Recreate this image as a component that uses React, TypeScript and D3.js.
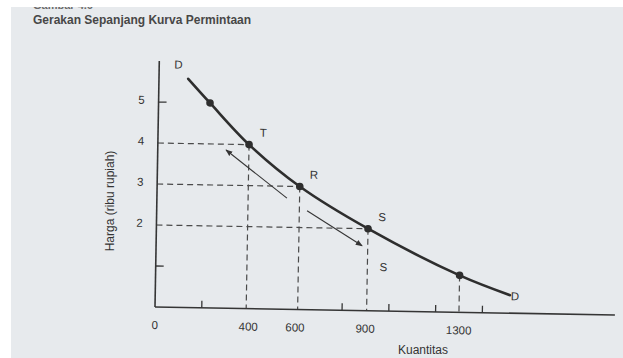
import React from "react";
import * as d3 from "d3";

// Demand curve (quantity, price in thousand rupiah)
const curveQ = [125, 220, 390, 610, 905, 1300, 1517];
const curveP = [5.58, 5.0, 4.0, 3.0, 2.0, 0.9, 0.44];
// marked points (indices into curve arrays)
const markedIdx = [1, 2, 3, 4, 5];
const pointLabels = ["", "T", "R", "S", ""];
const hDashIdx = [2, 3, 4];
const vDashIdx = [2, 3, 4, 5];
const xTickLabels = [0, 400, 600, 900, 1300];
const xMinorTicks = [200, 800, 1000, 1200, 1400];
const yTickLabels = [5, 4, 3, 2];
const yMinorTicks = [5, 1];
// movement arrows [fromQ, fromP, toQ, toP]
const arrows = [
  [556, 2.71, 292, 3.86],
  [643, 2.41, 881, 1.58],
];

const W = 623;
const H = 358;
const ox = 155;
const oy = 307;

export default function App() {
  const x = d3.scaleLinear().domain([0, 1300]).range([ox, ox + 304]);
  const y = d3.scaleLinear().domain([0, 5]).range([oy, oy - 205]);
  const pts = curveQ.map((q, i) => [x(q), y(curveP[i])] as [number, number]);
  const line = d3.line().curve(d3.curveCatmullRom.alpha(0.5))(pts) || "";
  const ink = "#353535";
  const txt = "#343434";
  const font = "'Liberation Sans', Arial, sans-serif";
  const xAxisEnd = x(1967);
  const yAxisTop = y(6.0);

  return (
    <svg
      width={W}
      height={H}
      style={{ position: "absolute", left: 0, top: 0, display: "block" }}
      fontFamily={font}
    >
      <defs>
        <marker
          id="ah"
          viewBox="0 0 10 10"
          refX="9"
          refY="5"
          markerWidth="7"
          markerHeight="7"
          orient="auto-start-reverse"
          markerUnits="userSpaceOnUse"
        >
          <path d="M0,1 L10,5 L0,9 Z" fill={ink} />
        </marker>
      </defs>
      <rect x={0} y={0} width={W} height={H} fill="#e7eaed" />
      <text x={33} y={9} fontSize={11} fontWeight="bold" fill="#6a6a6a">
        Gambar 4.6
      </text>
      <rect x={0} y={0} width={W} height={7} fill="#ffffff" />
      <rect x={0} y={0} width={11} height={H} fill="#ffffff" />
      <text x={33} y={24} fontSize={12} fontWeight="bold" fill="#474747">
        Gerakan Sepanjang Kurva Permintaan
      </text>

      <g transform={`rotate(1 ${ox} ${oy})`}>
        {/* dashed guides */}
        {hDashIdx.map((i) => (
          <line
            key={"h" + i}
            x1={x(0)}
            x2={x(curveQ[i])}
            y1={y(curveP[i])}
            y2={y(curveP[i])}
            stroke="#4a4a4a"
            strokeWidth={1.2}
            strokeDasharray="6,4"
          />
        ))}
        {vDashIdx.map((i) => (
          <line
            key={"v" + i}
            x1={x(curveQ[i])}
            x2={x(curveQ[i])}
            y1={y(curveP[i])}
            y2={y(0)}
            stroke="#4a4a4a"
            strokeWidth={1.2}
            strokeDasharray="6,4"
          />
        ))}
        {/* axes */}
        <line x1={x(0)} x2={x(0)} y1={yAxisTop} y2={y(0)} stroke={ink} strokeWidth={1.6} />
        <line x1={x(0)} x2={xAxisEnd} y1={y(0)} y2={y(0)} stroke={ink} strokeWidth={1.6} />
        {xMinorTicks.map((t) => (
          <line key={"xt" + t} x1={x(t)} x2={x(t)} y1={y(0)} y2={y(0) - 7} stroke={ink} strokeWidth={1.3} />
        ))}
        {yMinorTicks.map((t) => (
          <line key={"yt" + t} x1={x(0)} x2={x(0) + 8} y1={y(t)} y2={y(t)} stroke={ink} strokeWidth={1.3} />
        ))}
        {xTickLabels.map((t) => (
          <text key={"xl" + t} x={x(t)} y={y(0) + 22} fontSize={11.5} textAnchor="middle" fill={txt}>
            {t}
          </text>
        ))}
        {yTickLabels.map((t) => (
          <text key={"yl" + t} x={x(0) - 17} y={y(t) + 2} fontSize={11.5} textAnchor="middle" fill={txt}>
            {t}
          </text>
        ))}
        {/* demand curve */}
        <path d={line} fill="none" stroke="#2e2e2e" strokeWidth={2.6} strokeLinecap="round" />
        {markedIdx.map((i) => (
          <circle key={"p" + i} cx={x(curveQ[i])} cy={y(curveP[i])} r={3.8} fill="#2e2e2e" />
        ))}
        {markedIdx.map((i, k) =>
          pointLabels[k] ? (
            <text
              key={"pl" + i}
              x={x(curveQ[i]) + 14}
              y={y(curveP[i]) - 8}
              fontSize={11.5}
              textAnchor="middle"
              fill={txt}
            >
              {pointLabels[k]}
            </text>
          ) : null
        )}
        <text x={x(curveQ[4]) + 16} y={y(curveP[4]) + 42} fontSize={11.5} textAnchor="middle" fill={txt}>
          S
        </text>
        <text x={x(curveQ[0]) - 10} y={y(curveP[0]) - 10} fontSize={11.5} textAnchor="middle" fill={txt}>
          D
        </text>
        <text x={x(curveQ[6]) + 5} y={y(curveP[6]) + 5} fontSize={11.5} textAnchor="middle" fill={txt}>
          D
        </text>
        {/* movement arrows */}
        {arrows.map((a, k) => (
          <line
            key={"a" + k}
            x1={x(a[0])}
            y1={y(a[1])}
            x2={x(a[2])}
            y2={y(a[3])}
            stroke={ink}
            strokeWidth={1.1}
            markerEnd="url(#ah)"
          />
        ))}
      </g>

      <text x={423} y={354} fontSize={12} textAnchor="middle" fill={txt}>
        Kuantitas
      </text>
      <text
        transform="translate(114 201) rotate(-90)"
        fontSize={12}
        textAnchor="middle"
        fill={txt}
      >
        Harga (ribu rupiah)
      </text>
    </svg>
  );
}
